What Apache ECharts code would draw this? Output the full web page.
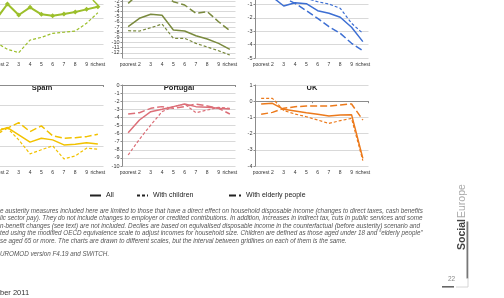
<!DOCTYPE html>
<html>
<head>
<meta charset="utf-8">
<script src="https://cdn.jsdelivr.net/npm/echarts@6.0.0/dist/echarts.min.js"></script>
<style>
html, body { margin: 0; padding: 0; background: #fff; }
#chartmain { width: 504px; height: 298px; }
</style>
</head>
<body>
<div id="chartmain"></div>
<script>
var categories = ['poorest', '2', '3', '4', '5', '6', '7', '8', '9', 'richest'];

// top row (countries cropped off at the top of the page)
var estAll      = [-2.1, -0.97, -1.79, -1.22, -1.74, -1.84, -1.72, -1.57, -1.37, -1.17];
var estChildren = [-3.85, -4.35, -4.6, -3.66, -3.46, -3.16, -3.08, -2.99, -2.41, -1.62];
var estElderly  = [-0.2, -0.1, -0.3, -0.2, -0.3, -0.3, -0.2, -0.2, -0.2, -1.05];

var grcAll      = [-6.93, -5.3, -4.52, -4.72, -7.57, -7.77, -8.68, -9.32, -10.16, -11.32];
var grcChildren = [-7.7, -7.77, -7.13, -6.41, -9.18, -9.18, -10.16, -10.87, -11.59, -12.43];
var grcElderly  = [-2.4, -0.4, -0.3, -0.5, -2.08, -2.72, -4.33, -4.01, -5.96, -7.7];

var ireAll      = [-0.5, -0.45, -1.12, -0.87, -0.95, -1.47, -1.66, -1.96, -2.71, -3.78];
var ireChildren = [-0.3, -0.25, -0.4, -0.5, -0.55, -0.8, -0.97, -1.29, -2.41, -3.16];
var ireElderly  = [-0.2, -0.3, -0.5, -0.92, -1.47, -2.04, -2.66, -3.16, -3.9, -4.46];

// bottom row
var espAll      = [-2.3, -2.1, -2.46, -2.82, -2.63, -2.71, -2.96, -2.93, -2.85, -2.91];
var espChildren = [-2.2, -2.13, -2.71, -3.4, -3.2, -3.0, -3.65, -3.5, -3.12, -3.17];
var espElderly  = [-2.45, -2.13, -1.86, -2.3, -2.02, -2.51, -2.63, -2.6, -2.55, -2.43];

var prtAll      = [-5.89, -4.32, -3.29, -3.0, -2.67, -2.35, -2.67, -2.76, -2.88, -2.96];
var prtChildren = [-8.64, -6.7, -4.94, -3.29, -2.67, -2.35, -3.42, -3.09, -2.76, -2.88];
var prtElderly  = [-3.58, -3.42, -2.88, -2.67, -2.88, -2.67, -2.35, -2.59, -2.88, -3.58];

var ukAll       = [-0.17, -0.13, -0.5, -0.6, -0.71, -0.81, -0.91, -0.85, -0.83, -3.53];
var ukChildren  = [0.18, 0.18, -0.58, -0.79, -0.96, -1.16, -1.37, -1.2, -1.06, -3.67];
var ukElderly   = [-0.81, -0.69, -0.44, -0.34, -0.3, -0.3, -0.3, -0.23, -0.17, -1.16];

var seriesNames = ['All', 'With children', 'With elderly people'];

var panels = [
    {title: '',         left: -9.5,  top: -9, height: 67, min: -5,  max: 0, color: '#9cbf2b', lines: [estAll, estChildren, estElderly], marker: 'diamond'},
    {title: '',         left: 122.5, top: -9, height: 67, min: -13, max: 0, color: '#7a8a3e', lines: [grcAll, grcChildren, grcElderly]},
    {title: '',         left: 255.5, top: -9, height: 67, min: -5,  max: 0, color: '#3d6fd3', lines: [ireAll, ireChildren, ireElderly]},
    {title: 'Spain',    left: -9.5,  top: 85, height: 81, min: -4,  max: 0, color: '#f2c200', lines: [espAll, espChildren, espElderly]},
    {title: 'Portugal', left: 122.5, top: 85, height: 81, min: -10, max: 0, color: '#dc6f78', lines: [prtAll, prtChildren, prtElderly]},
    {title: 'UK',       left: 255.5, top: 85, height: 81, min: -4,  max: 1, color: '#ec7a1c', lines: [ukAll, ukChildren, ukElderly]}
];

var dashes = ['solid', [3, 2], [7, 3]];
var widths = [1.5, 1.2, 1.5];

var grid = [], xAxis = [], yAxis = [], series = [], graphic = [];

panels.forEach(function (p, i) {
    grid.push({left: p.left, top: p.top, width: 113, height: p.height, containLabel: false, outerBoundsMode: 'none'});
    // labels at the bottom
    xAxis.push({
        gridIndex: i, type: 'category', data: categories, position: 'bottom', boundaryGap: true,
        axisLine: {show: false, onZero: false}, axisTick: {show: false},
        axisLabel: {interval: 0, fontSize: 5, color: '#333', margin: 4, fontFamily: 'Liberation Sans'},
        splitLine: {show: false}
    });
    // the axis line itself sits on zero, like in excel
    xAxis.push({
        gridIndex: i, type: 'category', data: categories, position: 'bottom', boundaryGap: true,
        axisLine: {show: true, onZero: true, lineStyle: {color: '#8c8c8c', width: 1}},
        axisTick: {show: true, length: 2, lineStyle: {color: '#8c8c8c'}},
        axisLabel: {show: false}, splitLine: {show: false}
    });
    yAxis.push({
        gridIndex: i, type: 'value', min: p.min, max: p.max, interval: 1,
        axisLine: {show: true, lineStyle: {color: '#8c8c8c'}},
        axisTick: {show: true, length: 2, lineStyle: {color: '#8c8c8c'}},
        axisLabel: {fontSize: 5.5, color: '#333', margin: 3, fontFamily: 'Liberation Sans'},
        splitLine: {lineStyle: {color: '#d9d9d9', width: 1}}
    });
    p.lines.forEach(function (vals, k) {
        var s = {
            name: (p.title || 'panel' + i) + ' ' + seriesNames[k],
            type: 'line', xAxisIndex: i * 2, yAxisIndex: i, data: vals,
            symbol: 'none', silent: true, animation: false,
            lineStyle: {color: p.color, width: widths[k], type: dashes[k]},
            itemStyle: {color: p.color}
        };
        if (k == 0 && p.marker) {
            s.symbol = p.marker;
            s.symbolSize = 5;
            s.lineStyle.width = 2;
        }
        series.push(s);
    });
    if (p.title) {
        graphic.push({
            type: 'text', x: p.left + 56.5 + (i == 3 ? -5 : 0), y: 88,
            style: {text: p.title, font: 'bold 7.5px "Liberation Sans"', fill: '#222', textAlign: 'center', textVerticalAlign: 'middle'}
        });
    }
});

// dummy series only for the legend (black keys)
seriesNames.forEach(function (n, k) {
    series.push({
        name: n, type: 'line', xAxisIndex: 0, yAxisIndex: 0, data: [], symbol: 'none',
        lineStyle: {color: '#222', width: 1.2, type: dashes[k]}, itemStyle: {color: '#222'}
    });
});

var legendText = {fontSize: 7, color: '#222', fontFamily: 'Liberation Sans'};
function legendItem(n) {
    return [{name: n, itemStyle: {opacity: 0}}];
}
var legend = [
    {left: 89, top: 192, padding: 0, itemWidth: 11, itemHeight: 8, selectedMode: false, data: legendItem('All'), textStyle: legendText},
    {left: 136, top: 192, padding: 0, itemWidth: 11, itemHeight: 8, selectedMode: false, data: legendItem('With children'), textStyle: legendText},
    {left: 228, top: 192, padding: 0, itemWidth: 12, itemHeight: 8, selectedMode: false, data: legendItem('With elderly people'), textStyle: legendText}
];

var noteLines = [
    'e austerity measures included here are limited to those that have a direct effect on household disposable income (changes to direct taxes, cash benefits',
    'lic sector pay). They do not include changes to employer or credited contributions. In addition, increases in indirect tax, cuts in public services and some',
    'n-benefit changes (see text) are not included. Deciles are based on equivalised disposable income in the counterfactual (before austerity) scenario and',
    'ted using the modified OECD equivalence scale to adjust incomes for household size. Children are defined as those aged under 18 and \u201celderly people\u201d',
    'se aged 65 or more. The charts are drawn to different scales, but the interval between gridlines on each of them is the same.'
];
var noteY = [211, 218.5, 226, 233.5, 241];
noteLines.forEach(function (t, k) {
    graphic.push({type: 'text', x: 0, y: noteY[k], style: {text: t, font: 'italic 6.3px "Liberation Sans"', fill: '#555', textVerticalAlign: 'middle'}});
});
graphic.push({type: 'text', x: 0, y: 254.5, style: {text: 'UROMOD version F4.19 and SWITCH.', font: 'italic 6.3px "Liberation Sans"', fill: '#555', textVerticalAlign: 'middle'}});
graphic.push({type: 'text', x: 0, y: 293, style: {text: 'ber 2011', font: '7.5px "Liberation Sans"', fill: '#333', textVerticalAlign: 'middle'}});

// page furniture on the right
graphic.push({type: 'text', x: 462, y: 250, rotation: Math.PI / 2, style: {text: 'Social', font: 'bold 10.5px "Liberation Sans"', fill: '#444', textVerticalAlign: 'middle'}});
graphic.push({type: 'text', x: 462, y: 218, rotation: Math.PI / 2, style: {text: 'Europe', font: '10.5px "Liberation Sans"', fill: '#aaa', textVerticalAlign: 'middle'}});
graphic.push({type: 'rect', shape: {x: 466.5, y: 221.5, width: 1.8, height: 57}, style: {fill: '#777'}});
graphic.push({type: 'polyline', shape: {points: [[468, 278], [468, 287], [456, 287]]}, style: {stroke: '#ccc', lineWidth: 0.8, fill: null}});
graphic.push({type: 'rect', shape: {x: 442, y: 286, width: 12, height: 1.6}, style: {fill: '#666'}});
graphic.push({type: 'text', x: 451.5, y: 279, style: {text: '22', font: '6.5px "Liberation Sans"', fill: '#888', textAlign: 'center', textVerticalAlign: 'middle'}});

var option = {
    animation: false,
    backgroundColor: '#fff',
    grid: grid,
    xAxis: xAxis,
    yAxis: yAxis,
    legend: legend,
    series: series,
    graphic: graphic
};

var myChart = echarts.init(document.getElementById('chartmain'));
myChart.setOption(option);
</script>
</body>
</html>
